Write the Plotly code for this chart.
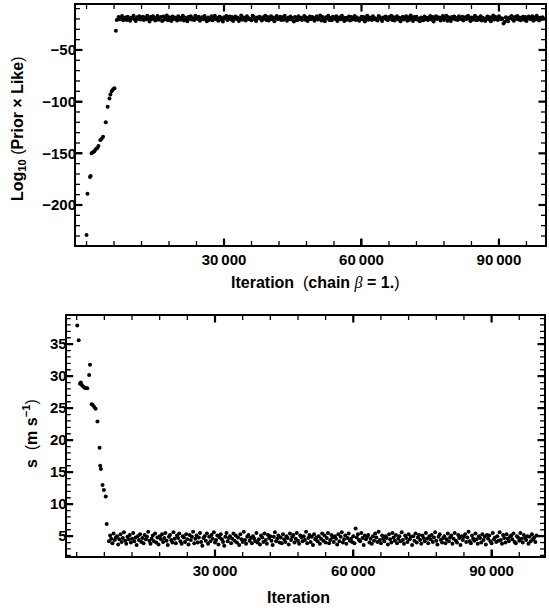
import plotly.graph_objects as go

W, H = 549, 608

# ---------------- data ----------------
# Top panel: burn-in points (iteration, log10(prior x like))
burn_it_top = [0, 200, 760, 900, 1100, 1400, 1700, 2000, 2300, 2600, 3000, 3300, 3600,
               4200, 4600, 5000, 5200, 5500, 5800, 6100, 6400, 6600]
burn_val_top = [-229, -189, -173, -172, -150, -149, -148, -146, -145, -143, -137, -136, -134,
                -120, -105, -97, -93, -90, -88, -87, -31.5, -21]

# Stationary part: sampled every 250 iterations from 7000
stat_start, stat_step = 7000, 250
stat_val_top = [
    -18.1, -20.4, -19.6, -17.2, -21.3, -19.0, -18.5, -20.9, -17.8, -19.9,
    -21.7, -18.8, -19.4, -16.9, -20.2, -22.1, -18.3, -19.7, -17.5, -20.6,
    -19.1, -17.9, -21.0, -18.6, -20.3, -16.8, -19.5, -22.4, -18.2, -20.0,
    -17.4, -19.8, -21.5, -18.9, -17.1, -20.7, -19.3, -18.0, -21.9, -17.7,
    -20.5, -19.2, -16.7, -21.2, -18.4, -19.6, -22.0, -17.6, -20.1, -18.7,
    -19.9, -21.4, -17.3, -18.8, -20.8, -19.0, -17.0, -21.6, -18.5, -20.3,
    -22.3, -18.1, -19.7, -17.5, -20.6, -19.4, -21.1, -16.9, -18.9, -20.0,
    -17.8, -21.8, -19.2, -18.3, -20.4, -17.2, -19.8, -22.2, -18.6, -20.9,
    -19.5, -17.4, -21.3, -18.0, -16.8, -20.2, -19.1, -21.7, -17.9, -18.7,
    -20.7, -22.5, -18.4, -19.6, -17.1, -21.0, -19.3, -17.7, -20.5, -18.2,
    -21.9, -19.0, -17.6, -20.1, -18.8, -22.0, -19.7, -16.7, -20.8, -18.5,
    -19.2, -21.5, -17.3, -18.9, -20.3, -19.9, -21.2, -17.0, -18.1, -20.6,
    -22.1, -18.6, -19.4, -17.8, -20.0, -21.4, -18.3, -19.8, -16.9, -20.9,
    -18.0, -21.6, -19.5, -17.5, -20.4, -18.7, -22.3, -19.1, -17.2, -20.2,
    -19.7, -17.9, -21.1, -18.4, -20.7, -16.8, -19.3, -21.8, -18.9, -20.0,
    -17.6, -20.5, -19.0, -22.4, -18.2, -19.6, -21.3, -17.4, -20.1, -18.8,
    -21.0, -19.4, -17.1, -20.8, -18.5, -22.0, -19.8, -17.7, -20.3, -18.1,
    -19.9, -21.7, -18.6, -17.3, -20.6, -19.2, -16.7, -21.5, -18.0, -20.4,
    -22.2, -18.3, -19.5, -17.0, -20.9, -19.1, -21.2, -17.8, -18.7, -20.0,
    -17.5, -21.9, -19.7, -18.4, -20.2, -16.9, -19.3, -22.1, -18.9, -20.7,
    -19.0, -17.6, -21.4, -18.2, -20.5, -19.8, -17.2, -21.0, -18.6, -20.1,
    -21.8, -19.6, -17.9, -20.3, -18.1, -22.5, -19.4, -16.8, -20.8, -18.5,
    -19.2, -21.1, -17.4, -18.8, -20.6, -19.9, -21.6, -17.1, -18.3, -20.0,
    -22.0, -18.7, -19.5, -17.7, -20.4, -21.3, -18.0, -19.7, -17.0, -20.9,
    -18.4, -21.5, -19.1, -17.3, -20.2, -18.9, -22.3, -19.6, -17.8, -20.5,
    -19.3, -17.5, -21.7, -18.6, -20.7, -16.7, -19.0, -21.9, -18.2, -20.1,
    -17.9, -20.8, -19.8, -22.2, -18.5, -19.4, -21.2, -17.6, -20.3, -18.8,
    -21.0, -19.2, -17.2, -20.6, -18.1, -22.4, -19.7, -17.4, -20.0, -18.3,
    -19.5, -21.4, -18.7, -17.1, -20.9, -19.0, -16.9, -21.8, -18.4, -20.4,
    -22.1, -18.0, -19.6, -17.7, -20.5, -19.3, -21.1, -17.3, -18.9, -20.2,
    -17.8, -21.6, -19.9, -18.2, -20.1, -16.8, -19.4, -22.0, -18.6, -20.8,
    -19.1, -17.0, -21.3, -18.5, -20.7, -19.7, -17.5, -21.5, -18.8, -20.0,
    -21.9, -19.5, -17.6, -20.4, -18.3, -22.3, -19.2, -16.7, -20.6, -18.1,
    -19.8, -21.0, -17.4, -18.9, -20.3, -19.6, -24.5, -22.8, -18.4, -20.9,
    -22.2, -18.6, -19.3, -17.2, -20.2, -21.7, -18.0, -19.9, -17.1, -20.5,
    -18.7, -21.2, -19.0, -17.9, -20.8, -18.2, -22.1, -19.4, -17.7, -20.1,
    -19.6, -17.3, -21.8, -18.5, -20.6, -16.9, -19.1, -21.4, -18.8, -20.0,
    -18.3, -19.7,
]

# Bottom panel: burn-in points (iteration, s in m/s)
burn_it_bot = [130, 430, 710, 900, 1100, 1400, 1700, 2000, 2300, 2700, 2880,
               3240, 3500, 3800, 4100, 4500, 4960, 5100, 5250, 5600, 5900, 6300, 6500]
burn_val_bot = [37.9, 35.6, 28.8, 29.0, 28.6, 28.4, 28.2, 28.1, 28.1, 30.2, 31.8,
                25.6, 25.5, 25.2, 24.9, 22.9, 18.8, 16.0, 15.5, 13.0, 12.2, 11.2, 6.9]

stat_val_bot = [
    4.2, 5.1, 4.6, 3.9, 5.4, 4.4, 4.8, 5.0, 3.7, 4.5,
    5.3, 4.1, 4.7, 5.6, 4.3, 3.8, 4.9, 4.5, 5.2, 4.0,
    4.6, 5.5, 4.2, 4.8, 3.6, 5.0, 4.4, 5.3, 4.1, 4.7,
    3.9, 5.2, 4.5, 4.9, 5.7, 4.3, 3.8, 4.6, 5.1, 4.2,
    5.4, 4.0, 4.8, 3.7, 5.0, 4.5, 5.3, 4.1, 4.7, 5.5,
    4.3, 3.6, 4.9, 5.2, 4.4, 4.0, 5.6, 4.6, 3.9, 5.1,
    4.7, 5.4, 4.2, 3.8, 5.0, 4.8, 4.1, 5.3, 4.5, 3.7,
    5.2, 4.4, 4.9, 5.7, 3.9, 4.6, 5.1, 4.0, 4.8, 5.5,
    4.1, 3.5, 4.7, 5.0, 4.3, 5.4, 3.8, 4.9, 4.2, 5.2,
    4.6, 5.6, 4.0, 4.4, 5.1, 3.7, 4.8, 5.3, 4.5, 4.1,
    3.5, 4.9, 5.5, 4.2, 4.7, 5.0, 3.9, 4.6, 5.4, 4.3,
    5.1, 4.0, 4.8, 3.6, 5.3, 4.5, 4.1, 5.7, 4.4, 3.8,
    4.9, 5.2, 4.3, 4.7, 3.9, 5.0, 4.6, 4.2, 5.5, 4.0,
    4.5, 3.7, 5.1, 4.8, 4.1, 5.4, 4.4, 3.8, 5.2, 4.7,
    5.0, 4.3, 3.6, 4.9, 5.6, 4.2, 4.6, 5.1, 4.0, 4.8,
    3.9, 5.3, 4.5, 4.1, 5.0, 4.7, 3.7, 5.4, 4.4, 4.9,
    5.2, 4.0, 4.6, 5.5, 4.3, 3.8, 5.1, 4.8, 4.2, 5.0,
    4.4, 5.7, 3.9, 4.7, 5.2, 4.1, 4.9, 3.6, 5.3, 4.5,
    4.8, 4.2, 5.0, 3.8, 4.6, 5.4, 4.3, 5.1, 4.0, 4.7,
    5.5, 3.9, 4.4, 5.2, 4.8, 4.1, 5.0, 4.6, 3.7, 5.3,
    4.2, 4.9, 5.6, 4.0, 4.5, 5.1, 3.8, 4.7, 5.4, 4.3,
    4.6, 4.1, 5.0, 3.9, 6.2, 4.8, 5.3, 4.4, 4.2, 5.5,
    4.7, 3.6, 5.1, 4.5, 4.9, 5.2, 4.0, 4.6, 3.8, 5.0,
    4.3, 5.4, 4.8, 4.1, 5.7, 4.4, 3.9, 5.1, 4.6, 4.2,
    5.0, 4.7, 3.7, 5.3, 4.5, 4.0, 5.5, 4.8, 4.3, 5.2,
    3.9, 4.6, 5.0, 4.2, 5.6, 4.4, 3.8, 5.1, 4.7, 4.1,
    5.3, 4.5, 4.9, 3.6, 5.0, 4.3, 5.4, 4.0, 4.8, 5.2,
    4.4, 3.8, 5.1, 4.7, 4.2, 5.5, 4.6, 3.9, 5.0, 4.5,
    5.2, 4.1, 4.8, 5.6, 4.3, 3.7, 4.9, 5.3, 4.4, 4.0,
    4.7, 5.0, 3.9, 4.5, 5.4, 4.2, 4.8, 5.1, 3.8, 4.6,
    5.5, 4.3, 4.0, 5.2, 4.7, 3.6, 5.0, 4.4, 4.9, 5.3,
    4.1, 4.8, 5.7, 4.2, 3.9, 5.1, 4.6, 4.3, 5.4, 4.5,
    3.8, 5.0, 4.7, 4.0, 5.3, 4.4, 4.9, 3.7, 5.2, 4.6,
    5.1, 4.2, 3.9, 5.5, 4.5, 4.8, 4.1, 5.0, 4.3, 5.6,
    4.4, 3.8, 5.2, 4.7, 4.0, 5.3, 4.6, 4.2, 4.9, 5.1,
    4.5, 5.4, 4.1, 3.9, 5.0, 4.8, 4.3, 5.5, 4.6, 4.0,
    5.2, 4.7, 4.4, 5.0, 3.8, 4.9, 4.2, 5.3, 4.5, 4.8,
    4.1, 5.1,
]

# tick positions (frame ticks, Mathematica style)
x_tick_vals = [30000, 60000, 90000]
x_minor_vals = [0, 6000, 12000, 18000, 24000, 36000, 42000, 48000, 54000,
                66000, 72000, 78000, 84000, 96000]
top_y_ticks = [-200, -150, -100, -50]
top_y_minor = [-230, -220, -210, -190, -180, -170, -160, -140, -130, -120, -110,
               -90, -80, -70, -60, -40, -30, -20, -10]
bot_y_ticks = [5, 10, 15, 20, 25, 30, 35]
bot_y_minor = [2, 3, 4, 6, 7, 8, 9, 11, 12, 13, 14, 16, 17, 18, 19, 21, 22, 23, 24,
               26, 27, 28, 29, 31, 32, 33, 34, 36, 37, 38, 39]

# ---------------- layout geometry (pixels) ----------------
TOP = dict(l=76, r=545, t=5, b=245, xr=[-2300, 100050], yr=[-238.7, -6.5])
BOT = dict(l=66.7, r=544, t=316, b=556, xr=[-2170, 101370], yr=[1.9, 39.4])

def px_x(p):
    return p / W

def px_y(p):
    return 1 - p / H

# ---------------- figure ----------------
stat_it_top = [stat_start + i * stat_step for i in range(len(stat_val_top))]
stat_it_bot = [stat_start + i * stat_step for i in range(len(stat_val_bot))]

fig = go.Figure()

def tick_traces(panel, xa, ya, xmaj, xmin, ymaj, ymin):
    # frame ticks as short line segments on all four sides, pointing inward
    xspan = panel["xr"][1] - panel["xr"][0]
    yspan = panel["yr"][1] - panel["yr"][0]
    dx = xspan / (panel["r"] - panel["l"])   # data units per pixel
    dy = yspan / (panel["b"] - panel["t"])
    x0, x1 = panel["xr"]
    y0, y1 = panel["yr"]
    for vals, L, w in ((xmaj, 6.5, 2.2), (xmin, 4, 1.3)):
        xs, ys = [], []
        for v in vals:
            xs += [v, v, None, v, v, None]
            ys += [y0, y0 + L * dy, None, y1, y1 - L * dy, None]
        fig.add_trace(go.Scatter(x=xs, y=ys, mode="lines", xaxis=xa, yaxis=ya,
                                 line=dict(color="black", width=w), showlegend=False,
                                 hoverinfo="skip", cliponaxis=False))
    for vals, L, w in ((ymaj, 6.5, 2.2), (ymin, 4, 1.3)):
        xs, ys = [], []
        for v in vals:
            xs += [x0, x0 + L * dx, None, x1, x1 - L * dx, None]
            ys += [v, v, None, v, v, None]
        fig.add_trace(go.Scatter(x=xs, y=ys, mode="lines", xaxis=xa, yaxis=ya,
                                 line=dict(color="black", width=w), showlegend=False,
                                 hoverinfo="skip", cliponaxis=False))

tick_traces(TOP, "x", "y", x_tick_vals, x_minor_vals, top_y_ticks, top_y_minor)
tick_traces(BOT, "x2", "y2", x_tick_vals, x_minor_vals, bot_y_ticks, bot_y_minor)

mk = dict(color="black", size=4)
fig.add_trace(go.Scatter(x=burn_it_top + stat_it_top, y=burn_val_top + stat_val_top,
                         mode="markers", marker=mk, xaxis="x", yaxis="y",
                         showlegend=False, hoverinfo="skip"))
fig.add_trace(go.Scatter(x=burn_it_bot + stat_it_bot, y=burn_val_bot + stat_val_bot,
                         mode="markers", marker=mk, xaxis="x2", yaxis="y2",
                         showlegend=False, hoverinfo="skip"))

FONT = "Liberation Sans, Arial, sans-serif"
tickfont = dict(family=FONT, size=15, color="black", weight="bold")
common = dict(showline=True, linewidth=2, linecolor="black", mirror=True,
              ticks="inside", ticklen=6, tickwidth=2, tickcolor="black",
              showgrid=False, zeroline=False, tickfont=tickfont, tickmode="array")

xcommon = dict(tickvals=x_tick_vals, exponentformat="none", separatethousands=True, **common)

fig.update_layout(
    width=W, height=H, margin=dict(l=0, r=0, t=0, b=0),
    paper_bgcolor="white", plot_bgcolor="white",
    separators=".\u2009",
    xaxis=dict(domain=[px_x(TOP["l"]), px_x(TOP["r"])], range=TOP["xr"], anchor="y", **xcommon),
    yaxis=dict(domain=[px_y(TOP["b"]), px_y(TOP["t"])], range=TOP["yr"], anchor="x",
               tickvals=top_y_ticks, ticklabelstandoff=-5, **common),
    xaxis2=dict(domain=[px_x(BOT["l"]), px_x(BOT["r"])], range=BOT["xr"], anchor="y2", **xcommon),
    yaxis2=dict(domain=[px_y(BOT["b"]), px_y(BOT["t"])], range=BOT["yr"], anchor="x2",
                tickvals=bot_y_ticks, ticklabelstandoff=-5, **common),
)

title_font = dict(family=FONT, size=16, color="black", weight="bold")
ann = [
    dict(text="Iteration  <span style='font-weight:normal'>(</span>chain "
              "<i style='font-weight:normal;font-family:Liberation Serif'>β</i> = 1."
              "<span style='font-weight:normal'>)</span>",
         x=px_x(315), y=px_y(283)),
    dict(text="Log<sub>10</sub> <span style='font-weight:normal'>(</span>Prior × Like"
              "<span style='font-weight:normal'>)</span>",
         x=px_x(18), y=px_y(129), textangle=-90),
    dict(text="Iteration", x=px_x(298), y=px_y(597)),
    dict(text="s  <span style='font-weight:normal'>(</span>m s<sup>−1</sup>"
              "<span style='font-weight:normal'>)</span>",
         x=px_x(30), y=px_y(434), textangle=-90),
]
for a in ann:
    fig.add_annotation(xref="paper", yref="paper", showarrow=False,
                       xanchor="center", yanchor="middle", font=title_font, **a)

fig.write_html("out.html")
